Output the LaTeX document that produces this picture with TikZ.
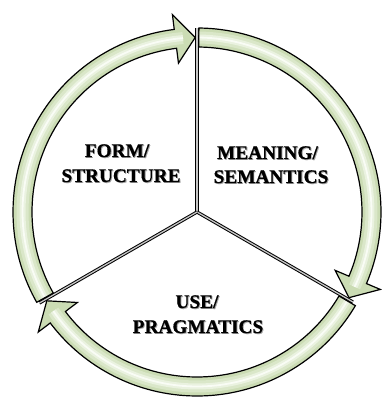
\documentclass[tikz,border=0pt]{standalone}
\usepackage{fontspec}
\setmainfont{Liberation Serif}[BoldFeatures={FakeBold=0.7}]
\definecolor{ringbase}{RGB}{203,220,180}
\definecolor{ringmid}{RGB}{218,231,201}
\definecolor{ringlight}{RGB}{234,242,224}
\definecolor{ringwhite}{RGB}{249,252,245}
\newcommand\arrpath[2]{(#1:184pt) arc[start angle=#1, end angle=#2+6.5, radius=184pt] -- (#2+6.5:199pt) -- (#2:174.5pt) -- (#2+6.5:150pt) -- (#2+6.5:165pt) arc[start angle=#2+6.5, end angle=#1, radius=165pt] -- cycle}
\newcommand\ringarrow[2]{%
  \begin{scope}
    \clip \arrpath{#1}{#2};
    \fill[ringbase] \arrpath{#1}{#2};
    \draw[ringmid, line width=12pt] (#1:174.5pt) arc[start angle=#1, end angle=#2+4, radius=174.5pt];
    \draw[ringlight, line width=6pt] (#1:174.5pt) arc[start angle=#1, end angle=#2+4, radius=174.5pt];
    \draw[ringwhite, line width=1.8pt] (#1:174.5pt) arc[start angle=#1, end angle=#2+4, radius=174.5pt];
  \end{scope}
  \draw[ringline] \arrpath{#1}{#2};}
\tikzset{
  ringline/.style={black, line width=1.2pt, line join=miter},
  spoke/.style={black, line width=1pt, double=gray!45, double distance=1.3pt},
  lbl/.style={font=\bfseries\fontsize{19.3}{25}\selectfont, anchor=base, inner sep=0pt, text=black},
  lblsh/.style={lbl, text=black!35, xshift=0.9pt, yshift=-0.9pt}
}
\begin{document}
\begin{tikzpicture}
\useasboundingbox (-197pt,-185pt) rectangle (185pt,212pt);
\coordinate (c) at (0pt,0pt);
\coordinate (top) at (90:184pt);
\coordinate (rgt) at (-30:180pt);
\coordinate (lft) at (210:182pt);
\draw[spoke] (c) -- (top);
\draw[spoke] (c) -- (rgt);
\draw[spoke] (c) -- (lft);
\ringarrow{209.4}{90.6}
\ringarrow{89.4}{-29.4}
\ringarrow{-30.6}{-149.4}
% shadows
\node[lblsh] (form1s) at (-80pt,55pt) {FORM/};
\node[lblsh] (form2s) at (-76pt,30pt) {STRUCTURE};
\node[lblsh] (mean1s) at (70.5pt,53pt) {MEANING/};
\node[lblsh] (mean2s) at (74pt,29pt) {SEMANTICS};
\node[lblsh] (use1s) at (0pt,-96pt) {USE/};
\node[lblsh] (use2s) at (1pt,-121pt) {PRAGMATICS};
% labels
\node[lbl] (form1) at (-80pt,55pt) {FORM/};
\node[lbl] (form2) at (-76pt,30pt) {STRUCTURE};
\node[lbl] (mean1) at (70.5pt,53pt) {MEANING/};
\node[lbl] (mean2) at (74pt,29pt) {SEMANTICS};
\node[lbl] (use1) at (0pt,-96pt) {USE/};
\node[lbl] (use2) at (1pt,-121pt) {PRAGMATICS};
\end{tikzpicture}
\end{document}
